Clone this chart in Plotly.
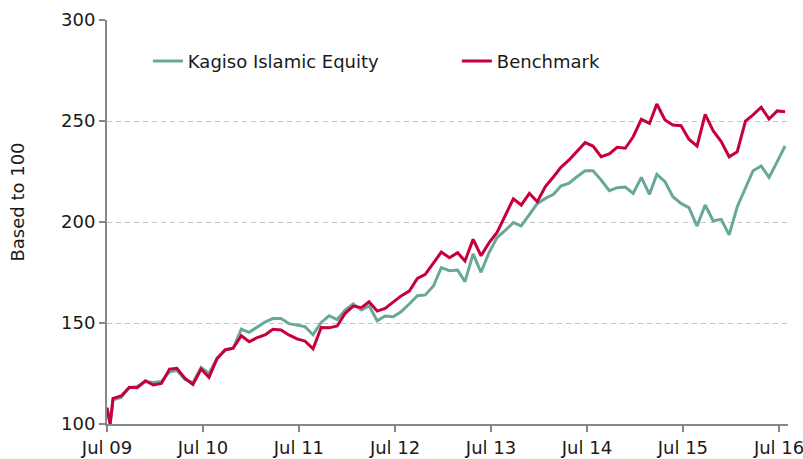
import pandas as pd
import plotly.graph_objects as go

# Month-end style observation dates (first two are the launch points)
start_dates = ["2009-07-01", "2009-07-13"]
monthly_dates = list((pd.date_range("2009-07-01", periods=85, freq="MS") + pd.Timedelta(days=23)).strftime("%Y-%m-%d"))
dates = start_dates + monthly_dates

kagiso = [108, 100,
          112, 113.2, 118, 118.5, 121, 120.5, 121, 125.8, 126.5, 122, 120.5, 128,
          125, 132.5, 136.5, 137.5, 146.9, 145.4, 148, 150.6, 152.2, 152.2, 149.7, 148.8,
          148.2, 144.2, 150.3, 153.6, 151.7, 156.4, 159.5, 156.4, 158.5, 151.1, 153.5, 153.1,
          155.6, 159.4, 163.5, 163.9, 168.3, 177.4, 175.9, 176.2, 170.5, 184.2, 175.1, 185,
          192.3, 195.8, 199.7, 198.1, 203.5, 209.1, 211.7, 213.7, 217.8, 219.2, 222.4, 225.4,
          225.4, 220.8, 215.5, 217, 217.3, 214.2, 222.1, 213.7, 223.6, 220, 212.5, 209.2,
          207.1, 198, 208.4, 200.6, 201.3, 193.6, 207.6, 217.1, 225.4, 227.7, 222.1, 229.9,
          237.6]

benchmark = [108, 100,
             112.7, 113.9, 118.2, 118, 121.4, 119.3, 120.1, 127.2, 127.6, 122.6, 119.6, 127.2,
             123.1, 132.5, 136.8, 137.5, 143.7, 140.7, 142.8, 144.2, 146.9, 146.5, 144.1, 142.1,
             141.1, 137.2, 147.8, 147.6, 148.5, 154.8, 158.4, 157.6, 160.5, 155.9, 157.2, 160.5,
             163.4, 165.8, 172.1, 174.1, 179.5, 185.1, 182.3, 184.8, 180.7, 191.4, 183.3, 189.8,
             194.8, 203.3, 211.5, 208.4, 214.2, 210, 217.5, 222.4, 227.1, 230.7, 234.8, 239.3,
             237.6, 232.3, 233.7, 237, 236.5, 242.2, 250.8, 248.8, 258.4, 250.5, 248, 247.7,
             241, 237.6, 253.3, 245.2, 239.8, 232.3, 234.8, 250, 253, 256.8, 251, 255,
             254.6]

y_ticks = [100, 150, 200, 250, 300]

FONT = "DejaVu Sans"
TEAL = "#68A899"
RED = "#C8003A"
TEXT = "#1a1a1a"

fig = go.Figure()
fig.add_trace(go.Scatter(x=dates, y=kagiso, mode="lines", name="Kagiso Islamic Equity",
                         line=dict(color=TEAL, width=3)))
fig.add_trace(go.Scatter(x=dates, y=benchmark, mode="lines", name="Benchmark",
                         line=dict(color=RED, width=3)))

fig.update_layout(
    template="none",
    width=803, height=459,
    margin=dict(l=107, r=15, t=20, b=35, autoexpand=False),
    paper_bgcolor="white", plot_bgcolor="white",
    font=dict(family=FONT, size=18, color=TEXT),
    showlegend=True,
    legend=dict(orientation="h", x=0.06, y=0.898, xanchor="left", yanchor="middle",
                font=dict(family=FONT, size=18, color=TEXT),
                bgcolor="rgba(0,0,0,0)", entrywidth=264, entrywidthmode="pixels"),
    annotations=[dict(text="Based to 100", xref="paper", yref="paper",
                      x=-0.131, y=0.55, textangle=-90, showarrow=False,
                      xanchor="center", yanchor="middle",
                      font=dict(family=FONT, size=18, color=TEXT))],
)

fig.update_xaxes(
    type="date", range=["2009-07-01", "2016-08-04"], automargin=False,
    tick0="2009-07-01", dtick="M12", tickformat="%b %y", ticklabeloverflow="allow",
    showgrid=False, showline=True, linecolor="#878787", linewidth=2,
    ticks="outside", ticklen=6, tickwidth=2, tickcolor="#878787",
    tickfont=dict(family=FONT, size=18, color=TEXT), zeroline=False,
)
fig.update_yaxes(
    range=[100, 300], tickvals=y_ticks, automargin=False,
    showgrid=True, gridcolor="#C4C4C4", griddash="5px,4px", gridwidth=1,
    showline=True, linecolor="#878787", linewidth=2,
    ticks="outside", ticklen=6, tickwidth=2, tickcolor="#878787",
    tickfont=dict(family=FONT, size=18, color=TEXT), zeroline=False,
)

fig.write_html("out.html", config={"displayModeBar": False},
               post_script="document.body.style.margin='0';document.body.style.overflow='hidden';")
